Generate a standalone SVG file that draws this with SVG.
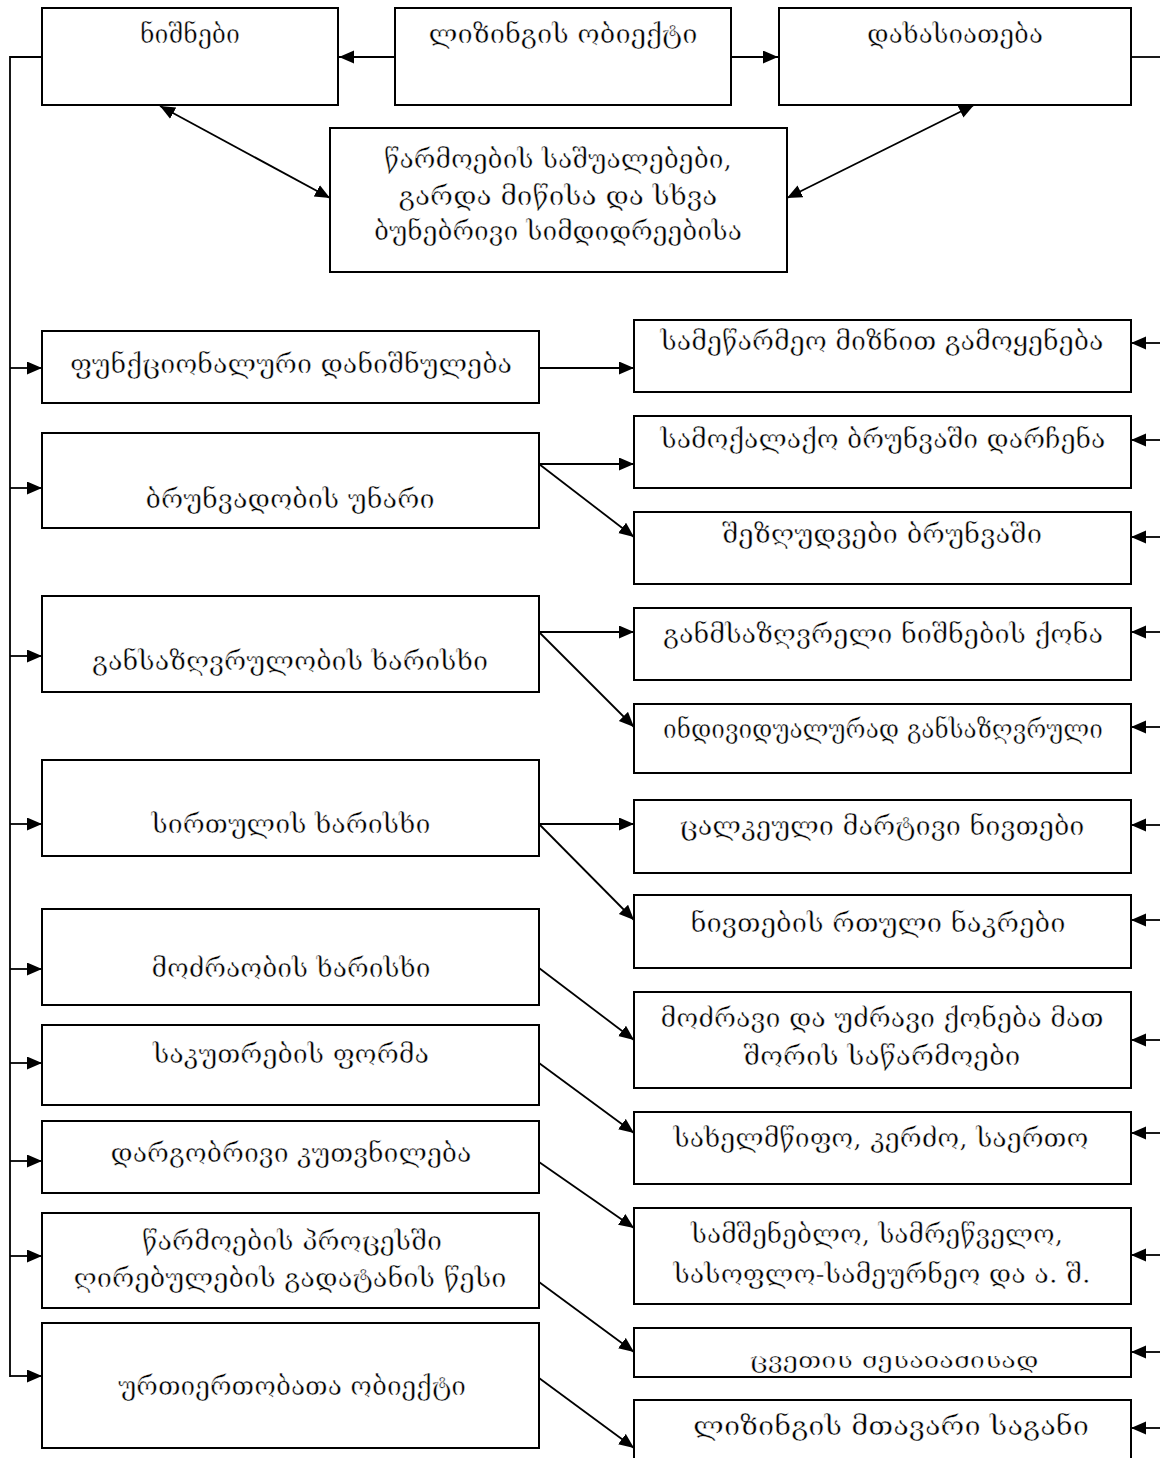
<svg xmlns="http://www.w3.org/2000/svg" width="1160" height="1458" viewBox="0 0 1160 1458">
  <style>
    .box { fill: #ffffff; stroke: #000000; stroke-width: 2; }
    .lbl { font-family: "DejaVu Serif", "DejaVu Sans", "Noto Sans Georgian", serif; font-size: 26px; fill: #000000; text-anchor: middle; stroke: #ffffff; stroke-width: 0.45px; paint-order: fill; }
    .small { font-size: 22px; }
    .wire { fill: none; stroke: #000000; stroke-width: 1.8; }
    .arr { marker-end: url(#head); }
    .dbl { marker-start: url(#head); marker-end: url(#head); }
  </style>
  <defs>
    <marker id="head" markerUnits="userSpaceOnUse" markerWidth="16" markerHeight="14" refX="15" refY="6.5" orient="auto-start-reverse">
      <path d="M0,0 L15,6.5 L0,13 z" fill="#000000"/>
    </marker>
    <clipPath id="clipWear">
      <rect x="634" y="1356" width="497" height="21"/>
    </clipPath>
  </defs>
  <rect width="1160" height="1458" fill="#ffffff"/>

  <!-- connectors -->
  <g id="connectors">
    <!-- top row -->
    <line class="wire arr" x1="395" y1="57" x2="339" y2="57"/>
    <line class="wire arr" x1="731" y1="57" x2="778" y2="57"/>
    <line class="wire" x1="1131" y1="57" x2="1160" y2="57"/>
    <line class="wire dbl" x1="160" y1="106" x2="330" y2="198"/>
    <line class="wire dbl" x1="787" y1="198" x2="974" y2="105"/>
    <!-- left bus -->
    <polyline class="wire" points="42,57 10,57 10,1377"/>
    <line class="wire arr" x1="10" y1="368" x2="42" y2="368"/>
    <line class="wire arr" x1="10" y1="488" x2="42" y2="488"/>
    <line class="wire arr" x1="10" y1="656" x2="42" y2="656"/>
    <line class="wire arr" x1="10" y1="824" x2="42" y2="824"/>
    <line class="wire arr" x1="10" y1="969" x2="42" y2="969"/>
    <line class="wire arr" x1="10" y1="1063" x2="42" y2="1063"/>
    <line class="wire arr" x1="10" y1="1161" x2="42" y2="1161"/>
    <line class="wire arr" x1="10" y1="1256" x2="42" y2="1256"/>
    <line class="wire arr" x1="10" y1="1376" x2="42" y2="1376"/>
    <!-- left column to right column -->
    <line class="wire arr" x1="539" y1="368" x2="634" y2="368"/>
    <line class="wire arr" x1="539" y1="464" x2="634" y2="464"/>
    <line class="wire arr" x1="539" y1="464" x2="634" y2="537"/>
    <line class="wire arr" x1="539" y1="632" x2="634" y2="632"/>
    <line class="wire arr" x1="539" y1="632" x2="634" y2="727"/>
    <line class="wire arr" x1="539" y1="824" x2="634" y2="824"/>
    <line class="wire arr" x1="539" y1="824" x2="634" y2="920"/>
    <line class="wire arr" x1="539" y1="968" x2="634" y2="1040"/>
    <line class="wire arr" x1="539" y1="1063" x2="634" y2="1133"/>
    <line class="wire arr" x1="539" y1="1162" x2="634" y2="1228"/>
    <line class="wire arr" x1="539" y1="1282" x2="634" y2="1352"/>
    <line class="wire arr" x1="539" y1="1378" x2="634" y2="1448"/>
    <!-- right bus feeds -->
    <line class="wire arr" x1="1160" y1="343" x2="1131" y2="343"/>
    <line class="wire arr" x1="1160" y1="440" x2="1131" y2="440"/>
    <line class="wire arr" x1="1160" y1="537" x2="1131" y2="537"/>
    <line class="wire arr" x1="1160" y1="632" x2="1131" y2="632"/>
    <line class="wire arr" x1="1160" y1="727" x2="1131" y2="727"/>
    <line class="wire arr" x1="1160" y1="825" x2="1131" y2="825"/>
    <line class="wire arr" x1="1160" y1="920" x2="1131" y2="920"/>
    <line class="wire arr" x1="1160" y1="1040" x2="1131" y2="1040"/>
    <line class="wire arr" x1="1160" y1="1133" x2="1131" y2="1133"/>
    <line class="wire arr" x1="1160" y1="1255" x2="1131" y2="1255"/>
    <line class="wire arr" x1="1160" y1="1352" x2="1131" y2="1352"/>
    <line class="wire arr" x1="1160" y1="1428" x2="1131" y2="1428"/>
  </g>

  <!-- top row -->
  <g id="n-signs">
    <rect class="box" x="42" y="8" width="296" height="97"/>
    <text class="lbl" x="190" y="43" textLength="100" lengthAdjust="spacingAndGlyphs">ნიშნები</text>
  </g>
  <g id="n-object">
    <rect class="box" x="395" y="8" width="336" height="97"/>
    <text class="lbl" x="563" y="43" textLength="269" lengthAdjust="spacingAndGlyphs">ლიზინგის ობიექტი</text>
  </g>
  <g id="n-description">
    <rect class="box" x="779" y="8" width="352" height="97"/>
    <text class="lbl" x="955" y="43" textLength="176" lengthAdjust="spacingAndGlyphs">დახასიათება</text>
  </g>
  <g id="n-means">
    <rect class="box" x="330" y="128" width="457" height="144"/>
    <text class="lbl" x="558" y="168" textLength="348" lengthAdjust="spacingAndGlyphs">წარმოების საშუალებები,</text>
    <text class="lbl" x="558" y="205" textLength="319" lengthAdjust="spacingAndGlyphs">გარდა მიწისა და სხვა</text>
    <text class="lbl" x="558" y="240" textLength="368" lengthAdjust="spacingAndGlyphs">ბუნებრივი სიმდიდრეებისა</text>
  </g>

  <!-- left column -->
  <g id="n-function">
    <rect class="box" x="42" y="331" width="497" height="72"/>
    <text class="lbl" x="291" y="373" textLength="442" lengthAdjust="spacingAndGlyphs">ფუნქციონალური დანიშნულება</text>
  </g>
  <g id="n-circulation">
    <rect class="box" x="42" y="433" width="497" height="95"/>
    <text class="lbl" x="290" y="508" textLength="289" lengthAdjust="spacingAndGlyphs">ბრუნვადობის უნარი</text>
  </g>
  <g id="n-definiteness">
    <rect class="box" x="42" y="596" width="497" height="96"/>
    <text class="lbl" x="290" y="670" textLength="396" lengthAdjust="spacingAndGlyphs">განსაზღვრულობის ხარისხი</text>
  </g>
  <g id="n-complexity">
    <rect class="box" x="42" y="760" width="497" height="96"/>
    <text class="lbl" x="291" y="833" textLength="279" lengthAdjust="spacingAndGlyphs">სირთულის ხარისხი</text>
  </g>
  <g id="n-mobility">
    <rect class="box" x="42" y="909" width="497" height="96"/>
    <text class="lbl" x="291" y="977" textLength="279" lengthAdjust="spacingAndGlyphs">მოძრაობის ხარისხი</text>
  </g>
  <g id="n-ownership">
    <rect class="box" x="42" y="1025" width="497" height="80"/>
    <text class="lbl" x="291" y="1063" textLength="276" lengthAdjust="spacingAndGlyphs">საკუთრების ფორმა</text>
  </g>
  <g id="n-sector">
    <rect class="box" x="42" y="1121" width="497" height="72"/>
    <text class="lbl" x="291" y="1162" textLength="361" lengthAdjust="spacingAndGlyphs">დარგობრივი კუთვნილება</text>
  </g>
  <g id="n-transfer">
    <rect class="box" x="42" y="1213" width="497" height="95"/>
    <text class="lbl" x="292" y="1250" textLength="300" lengthAdjust="spacingAndGlyphs">წარმოების პროცესში</text>
    <text class="lbl" x="290" y="1287" textLength="433" lengthAdjust="spacingAndGlyphs">ღირებულების გადატანის წესი</text>
  </g>
  <g id="n-relations">
    <rect class="box" x="42" y="1323" width="497" height="125"/>
    <text class="lbl" x="292" y="1395" textLength="348" lengthAdjust="spacingAndGlyphs">ურთიერთობათა ობიექტი</text>
  </g>

  <!-- right column -->
  <g id="n-business-use">
    <rect class="box" x="634" y="320" width="497" height="72"/>
    <text class="lbl" x="882" y="350" textLength="443" lengthAdjust="spacingAndGlyphs">სამეწარმეო მიზნით გამოყენება</text>
  </g>
  <g id="n-civil">
    <rect class="box" x="634" y="416" width="497" height="72"/>
    <text class="lbl" x="883" y="448" textLength="445" lengthAdjust="spacingAndGlyphs">სამოქალაქო ბრუნვაში დარჩენა</text>
  </g>
  <g id="n-restricted">
    <rect class="box" x="634" y="512" width="497" height="72"/>
    <text class="lbl" x="882" y="543" textLength="320" lengthAdjust="spacingAndGlyphs">შეზღუდვები ბრუნვაში</text>
  </g>
  <g id="n-features">
    <rect class="box" x="634" y="608" width="497" height="72"/>
    <text class="lbl" x="883" y="643" textLength="440" lengthAdjust="spacingAndGlyphs">განმსაზღვრელი ნიშნების ქონა</text>
  </g>
  <g id="n-individual">
    <rect class="box" x="634" y="704" width="497" height="69"/>
    <text class="lbl" x="883" y="738" textLength="440" lengthAdjust="spacingAndGlyphs">ინდივიდუალურად განსაზღვრული</text>
  </g>
  <g id="n-simple">
    <rect class="box" x="634" y="800" width="497" height="73"/>
    <text class="lbl" x="882" y="835" textLength="405" lengthAdjust="spacingAndGlyphs">ცალკეული მარტივი ნივთები</text>
  </g>
  <g id="n-complex">
    <rect class="box" x="634" y="895" width="497" height="73"/>
    <text class="lbl" x="878" y="932" textLength="375" lengthAdjust="spacingAndGlyphs">ნივთების რთული ნაკრები</text>
  </g>
  <g id="n-movable">
    <rect class="box" x="634" y="992" width="497" height="96"/>
    <text class="lbl" x="882" y="1027" textLength="443" lengthAdjust="spacingAndGlyphs">მოძრავი და უძრავი ქონება მათ</text>
    <text class="lbl" x="882" y="1065" textLength="277" lengthAdjust="spacingAndGlyphs">შორის საწარმოები</text>
  </g>
  <g id="n-forms">
    <rect class="box" x="634" y="1112" width="497" height="72"/>
    <text class="lbl" x="881" y="1147" textLength="415" lengthAdjust="spacingAndGlyphs">სახელმწიფო, კერძო, საერთო</text>
  </g>
  <g id="n-sectors">
    <rect class="box" x="634" y="1208" width="497" height="96"/>
    <text class="lbl" x="877" y="1243" textLength="372" lengthAdjust="spacingAndGlyphs">სამშენებლო, სამრეწველო,</text>
    <text class="lbl" x="882" y="1283" textLength="417" lengthAdjust="spacingAndGlyphs">სასოფლო-სამეურნეო და ა. შ.</text>
  </g>
  <g id="n-wear">
    <rect class="box" x="634" y="1328" width="497" height="49"/>
    <text class="lbl small" x="894" y="1368" textLength="289" lengthAdjust="spacingAndGlyphs" clip-path="url(#clipWear)">ცვეთის შესაბამისად</text>
  </g>
  <g id="n-subject">
    <rect class="box" x="634" y="1400" width="497" height="80"/>
    <text class="lbl" x="891" y="1435" textLength="396" lengthAdjust="spacingAndGlyphs">ლიზინგის მთავარი საგანი</text>
  </g>
</svg>
